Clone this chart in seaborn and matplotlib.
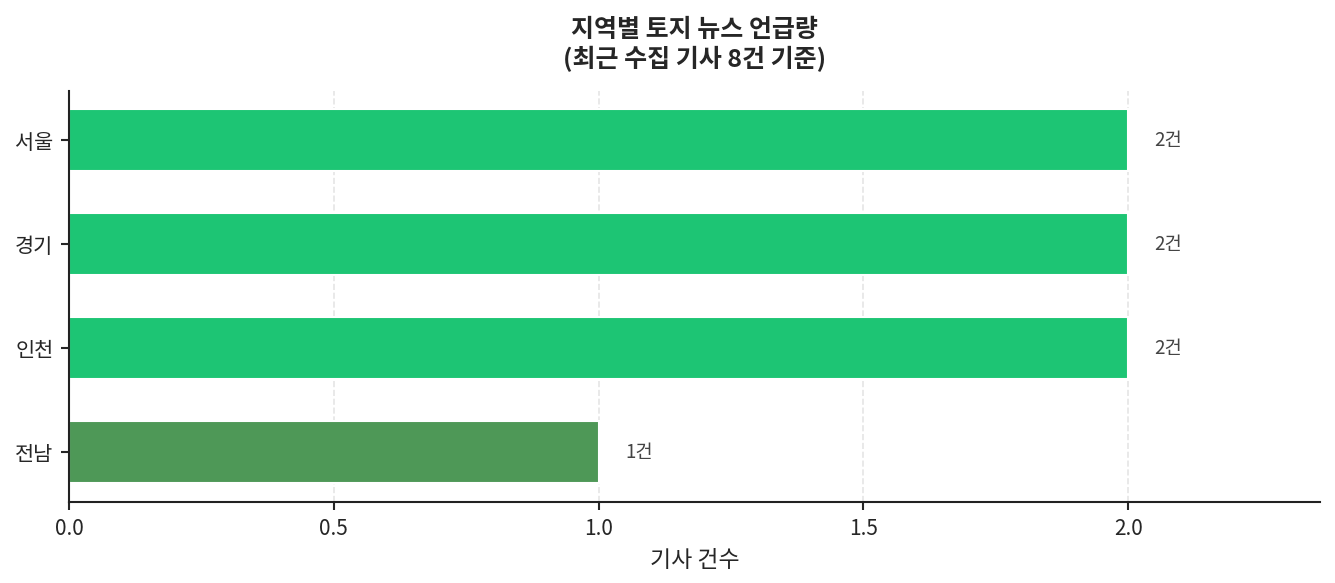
import pandas as pd
import matplotlib
matplotlib.use('Agg')
import matplotlib.pyplot as plt
import seaborn as sns

regions = ['서울', '경기', '인천', '전남']
counts = [2, 2, 2, 1]
bar_colors = ['#1dc574', '#1dc574', '#1dc574', '#4e9857']
xticks = [0.0, 0.5, 1.0, 1.5, 2.0]

dados = pd.DataFrame({'지역': regions, '건수': counts})

sns.set_style('white')
plt.rcParams['font.family'] = ['Noto Sans CJK KR', 'DejaVu Sans']

fig, ax = plt.subplots(figsize=(8.9, 3.893), dpi=150)
sns.barplot(
    data=dados,
    x='건수',
    y='지역',
    hue='지역',
    palette=bar_colors,
    width=0.6,
    legend=False,
    saturation=1,
    ax=ax
)

# 막대 옆 건수 표시
for i, v in enumerate(counts):
    ax.text(v + 0.05, i, f'{v}건', va='center', ha='left', fontsize=9, color='#444444')

ax.set_xlim(0, 2.363)
ax.set_ylim(3.48, -0.47)
ax.set_xticks(xticks)
ax.set_xlabel('기사 건수', fontsize=11)
ax.set_ylabel('')
ax.set_title('지역별 토지 뉴스 언급량\n(최근 수집 기사 8건 기준)', fontsize=12, fontweight='bold', pad=12)
ax.tick_params(axis='both', labelsize=10, length=4, width=1, left=True, bottom=True)
ax.grid(axis='x', linestyle='--', alpha=0.3, color='#aaaaaa')
ax.set_axisbelow(True)
sns.despine(ax=ax)
for s in ['left', 'bottom']:
    ax.spines[s].set_color('#222222')
    ax.spines[s].set_linewidth(1)

fig.subplots_adjust(left=0.0517, right=0.989, top=0.8425, bottom=0.139)
fig.savefig('out.png', dpi=150)
